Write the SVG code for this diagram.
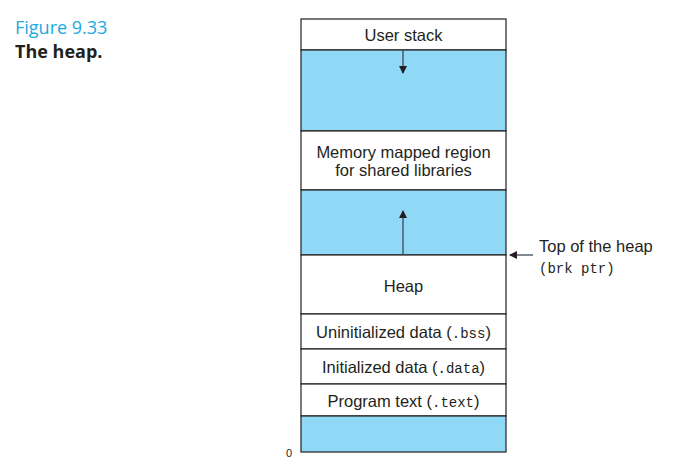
<svg xmlns="http://www.w3.org/2000/svg" width="674" height="468" viewBox="0 0 674 468">
<style>
.box{stroke:#231f20;stroke-width:1.2}
.w{fill:#ffffff}
.b{fill:#8fd9f6}
.t{font-family:"Liberation Sans",Arial,sans-serif;font-size:16.5px;fill:#231f20}
.m{font-family:"Liberation Mono","Courier New",monospace;font-size:14px}
.c{text-anchor:middle}
.ar{stroke:#3c4a55;stroke-width:1.3;fill:none}
</style>
<defs>
<marker id="ah" markerWidth="8" markerHeight="8" refX="7" refY="4" orient="auto" markerUnits="userSpaceOnUse">
<path d="M0,0 L8,4 L0,8 Z" fill="#231f20"/>
</marker>
</defs>
<rect width="674" height="468" fill="#ffffff"/>
<g id="caption">
<text x="15" y="34" font-family="'Open Sans','Noto Sans',sans-serif" font-size="18" fill="#1ba9e1">Figure 9.33</text>
<text x="15" y="58" font-family="'Open Sans','Noto Sans',sans-serif" font-size="18" font-weight="bold" fill="#231f20">The heap.</text>
</g>
<g id="user-stack"><rect class="box w" x="301" y="19" width="205" height="31"/><text class="t c" x="403.5" y="41">User stack</text></g>
<g id="gap1"><rect class="box b" x="301" y="50" width="205" height="81"/></g>
<g id="mmap"><rect class="box w" x="301" y="131" width="205" height="59"/><text class="t c" x="403.5" y="158">Memory mapped region</text><text class="t c" x="403.5" y="176">for shared libraries</text></g>
<g id="gap2"><rect class="box b" x="301" y="190" width="205" height="65"/></g>
<g id="heap"><rect class="box w" x="301" y="255" width="205" height="59"/><text class="t c" x="403.5" y="292">Heap</text></g>
<g id="bss"><rect class="box w" x="301" y="314" width="205" height="35"/><text class="t c" x="403.5" y="338">Uninitialized data (<tspan class="m">.bss</tspan>)</text></g>
<g id="data"><rect class="box w" x="301" y="349" width="205" height="35"/><text class="t c" x="403.5" y="373">Initialized data (<tspan class="m">.data</tspan>)</text></g>
<g id="text"><rect class="box w" x="301" y="384" width="205" height="32"/><text class="t c" x="403.5" y="407">Program text (<tspan class="m">.text</tspan>)</text></g>
<g id="gap3"><rect class="box b" x="301" y="416" width="205" height="36"/></g>
<g id="zero"><text x="286" y="457" font-family="'Liberation Sans',Arial,sans-serif" font-size="11" fill="#231f20">0</text></g>
<g id="brk-label"><text class="t" x="539" y="252">Top of the heap</text><text class="t m" x="539" y="273">(brk ptr)</text></g>
<g id="connectors">
<line class="ar" x1="403" y1="50" x2="403" y2="73" marker-end="url(#ah)"/>
<line class="ar" x1="403" y1="255" x2="403" y2="211" marker-end="url(#ah)"/>
<line class="ar" x1="533" y1="255" x2="510" y2="255" marker-end="url(#ah)"/>
</g>
</svg>
